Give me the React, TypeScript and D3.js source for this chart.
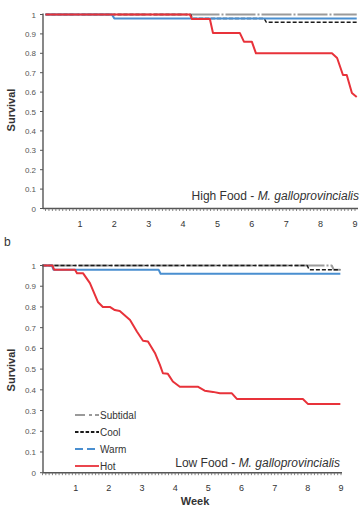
import React from "react";
import * as d3 from "d3";

// ---------- data ----------
const weekTicks = [1, 2, 3, 4, 5, 6, 7, 8, 9];
const survivalTicks = [0, 0.1, 0.2, 0.3, 0.4, 0.5, 0.6, 0.7, 0.8, 0.9, 1];
const survivalTickLabels = ["0", "0.1", "0.2", "0.3", "0.4", "0.5", "0.6", "0.7", "0.8", "0.9", "1"];
const seriesNames = ["Subtidal", "Cool", "Warm", "Hot"];

// High food
const highSubtidalWeek = [0, 9.05];
const highSubtidalSurv = [1, 1];
const highCoolWeek = [0, 4.22, 4.27, 6.36, 6.42, 9.05];
const highCoolSurv = [1, 1, 0.98, 0.98, 0.96, 0.96];
const highWarmWeek = [0, 1.93, 2.0, 9.05];
const highWarmSurv = [1, 1, 0.98, 0.98];
const highHotWeek = [0, 4.2, 4.26, 4.78, 4.87, 5.65, 5.77, 6.0, 6.12, 8.33, 8.48, 8.65, 8.76, 8.91, 9.05];
const highHotSurv = [1, 1, 0.977, 0.977, 0.905, 0.905, 0.86, 0.86, 0.8, 0.8, 0.776, 0.688, 0.688, 0.595, 0.575];

// Low food
const lowSubtidalWeek = [0, 8.72, 8.78, 8.98];
const lowSubtidalSurv = [1, 1, 0.98, 0.98];
const lowCoolWeek = [0, 7.98, 8.04, 8.98];
const lowCoolSurv = [1, 1, 0.98, 0.98];
const lowWarmWeek = [0, 0.28, 0.33, 3.5, 3.56, 8.98];
const lowWarmSurv = [1, 1, 0.98, 0.98, 0.96, 0.96];
const lowHotWeek = [0, 0.3, 0.35, 0.98, 1.04, 1.22, 1.43, 1.67, 1.82, 2.03, 2.18, 2.33, 2.64, 2.85, 3.03, 3.18, 3.39, 3.54, 3.63, 3.78, 3.93, 4.14, 4.68, 4.89, 5.14, 5.35, 5.71, 5.86, 7.85, 8.0, 8.98];
const lowHotSurv = [1, 1, 0.98, 0.98, 0.963, 0.963, 0.915, 0.824, 0.8, 0.8, 0.785, 0.78, 0.737, 0.68, 0.637, 0.633, 0.578, 0.52, 0.48, 0.477, 0.44, 0.415, 0.415, 0.396, 0.39, 0.383, 0.383, 0.356, 0.356, 0.332, 0.332];

// ---------- styles ----------
const styles: Record<string, { color: string; width: number; dash: string; legendDash: string }> = {
  Subtidal: { color: "#9a9a9a", width: 2, dash: "30 2 2 2", legendDash: "10 4 3 3" },
  Cool: { color: "#1a1a1a", width: 1.5, dash: "4 2", legendDash: "3.5 1.8" },
  Warm: { color: "#4a8fd0", width: 2, dash: "none", legendDash: "8 4" },
  Hot: { color: "#e8323a", width: 2, dash: "none", legendDash: "none" },
};

const FONT = "Liberation Sans, Arial, sans-serif";

type Series = { name: string; week: number[]; surv: number[] };

function Panel({
  series,
  x,
  y,
  xEnd,
  title,
  titleX,
  titleY,
  showLegend,
  labelY,
}: {
  series: Series[];
  x: d3.ScaleLinear<number, number>;
  y: d3.ScaleLinear<number, number>;
  xEnd: number;
  title: string;
  titleX: number;
  titleY: number;
  showLegend: boolean;
  labelY: number;
}) {
  const axisX = 43;
  const y0 = y(0);
  const line = d3
    .line<[number, number]>()
    .x((d) => x(d[0]))
    .y((d) => y(d[1]));
  const minor = d3.range(0, 9.0001, 0.1).map((v) => x(v));
  return (
    <g>
      {series.map((s) => {
        const st = styles[s.name];
        const pts = s.week.map((w, i) => [w, s.surv[i]] as [number, number]);
        return (
          <path
            key={s.name}
            d={line(pts) || ""}
            fill="none"
            stroke={st.color}
            strokeWidth={st.width}
            strokeDasharray={st.dash}
            strokeLinejoin="round"
          />
        );
      })}
      <line x1={axisX} x2={axisX} y1={y(1) - 1} y2={y0} stroke="#555" strokeWidth={1.4} />
      {survivalTicks.map((t, i) => (
        <g key={t}>
          <line x1={axisX - 3} x2={axisX} y1={y(t)} y2={y(t)} stroke="#555" strokeWidth={1} />
          <text x={36} y={y(t) + 3} textAnchor="end" fontSize={8} fill="#555" fontFamily={FONT}>
            {survivalTickLabels[i]}
          </text>
        </g>
      ))}
      <line x1={axisX} x2={xEnd} y1={y0} y2={y0} stroke="#555" strokeWidth={1.4} />
      {minor.map((mx, i) => (
        <line key={i} x1={mx} x2={mx} y1={y0} y2={y0 + 2.5} stroke="#666" strokeWidth={0.8} />
      ))}
      {weekTicks.map((t) => (
        <text key={t} x={x(t)} y={labelY} textAnchor="middle" fontSize={9} fill="#333" fontFamily={FONT}>
          {t}
        </text>
      ))}
      <text x={titleX} y={titleY} textAnchor="end" fontSize={12} fill="#333" fontFamily={FONT}>
        {title}
        <tspan fontStyle="italic">M. galloprovincialis</tspan>
      </text>
      {showLegend &&
        seriesNames.map((n, i) => {
          const st = styles[n];
          const ly = 415 + i * 17;
          return (
            <g key={n}>
              <line
                x1={75}
                x2={99}
                y1={ly}
                y2={ly}
                stroke={st.color}
                strokeWidth={1.8}
                strokeDasharray={st.legendDash}
              />
              <text x={100} y={ly + 4} fontSize={10} fill="#333" fontFamily={FONT}>
                {n}
              </text>
            </g>
          );
        })}
    </g>
  );
}

export default function App() {
  const xTop = d3.scaleLinear().domain([0, 9]).range([45.5, 355]);
  const yTop = d3.scaleLinear().domain([0, 1]).range([208.5, 14.5]);
  const xBot = d3.scaleLinear().domain([0, 9]).range([42.5, 341]);
  const yBot = d3.scaleLinear().domain([0, 1]).range([472.7, 265.5]);

  const highSeries: Series[] = [
    { name: "Subtidal", week: highSubtidalWeek, surv: highSubtidalSurv },
    { name: "Cool", week: highCoolWeek, surv: highCoolSurv },
    { name: "Warm", week: highWarmWeek, surv: highWarmSurv },
    { name: "Hot", week: highHotWeek, surv: highHotSurv },
  ];
  const lowSeries: Series[] = [
    { name: "Subtidal", week: lowSubtidalWeek, surv: lowSubtidalSurv },
    { name: "Cool", week: lowCoolWeek, surv: lowCoolSurv },
    { name: "Warm", week: lowWarmWeek, surv: lowWarmSurv },
    { name: "Hot", week: lowHotWeek, surv: lowHotSurv },
  ];

  return (
    <svg width={360} height={509} style={{ position: "absolute", left: 0, top: 0, background: "#fff" }}>
      <Panel
        series={highSeries}
        x={xTop}
        y={yTop}
        xEnd={358}
        title="High Food - "
        titleX={359}
        titleY={200}
        showLegend={false}
        labelY={227}
      />
      <Panel
        series={lowSeries}
        x={xBot}
        y={yBot}
        xEnd={342}
        title="Low Food - "
        titleX={340}
        titleY={467}
        showLegend={true}
        labelY={491}
      />
      <text
        transform="translate(15,110) rotate(-90)"
        textAnchor="middle"
        fontSize={11}
        fontWeight="bold"
        fill="#333"
        fontFamily={FONT}
      >
        Survival
      </text>
      <text
        transform="translate(15,370) rotate(-90)"
        textAnchor="middle"
        fontSize={11}
        fontWeight="bold"
        fill="#333"
        fontFamily={FONT}
      >
        Survival
      </text>
      <text x={195} y={505} textAnchor="middle" fontSize={11} fontWeight="bold" fill="#333" fontFamily={FONT}>
        Week
      </text>
      <text x={4} y={246} fontSize={12} fill="#333" fontFamily={FONT}>
        b
      </text>
    </svg>
  );
}
